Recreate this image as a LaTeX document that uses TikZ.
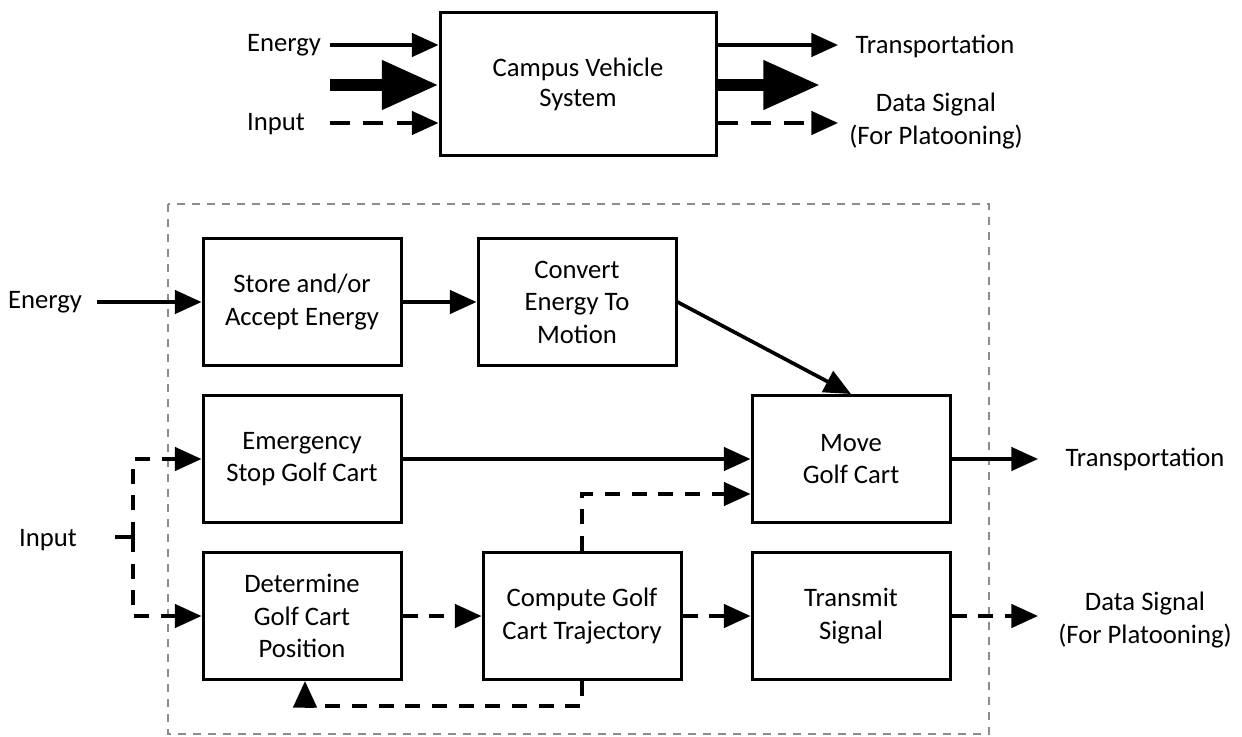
\documentclass[tikz,border=0pt]{standalone}
\usepackage{fontspec}
\setmainfont{Carlito}
\usetikzlibrary{arrows.meta}
\def\pxu{0.6pt}
\begin{document}
\begin{tikzpicture}[x=0.6pt,y=-0.6pt,
  txt/.style={align=center, inner sep=0pt, font=\fontsize{16}{19.5}\selectfont},
  blk/.style={txt, draw, line width=1.8pt, minimum width=198*\pxu, minimum height=127*\pxu},
  arr/.style={line width=2.2pt, -{Triangle[length=16pt,width=14pt]}},
  darr/.style={arr, dash pattern=on 9pt off 7pt},
  bigarr/.style={line width=7pt, -{Triangle[length=34pt,width=28pt]}},
  frame/.style={draw=black!45, line width=0.9pt, dash pattern=on 5pt off 4pt}]
\useasboundingbox (0,0) rectangle (1242,737);
\fill[white] (0,0) rectangle (1242,737);

% ---------- top block ----------
\node[blk, minimum width=276*\pxu, minimum height=143*\pxu, font=\fontsize{16}{18}\selectfont] (sys) at (578,84) {Campus Vehicle\\System};
\node[txt] (tEn) at (284,45) {Energy};
\node[txt] (tIn) at (276,124) {Input};
\node[txt] (tTr) at (935,46) {Transportation};
\node[txt] (tDa) at (936,121) {Data Signal\\(For Platooning)};

\coordinate (a1) at (330,45);
\coordinate (a2) at (330,85);
\coordinate (a3) at (330,123);
\coordinate (b1) at (838,45);
\coordinate (b2) at (820,85);
\coordinate (b3) at (838,123);
\draw[arr] (a1) -- (a1 -| sys.west);
\draw[bigarr] (a2) -- (a2 -| sys.west);
\draw[darr, dash pattern=on 12pt off 8pt] (a3) -- (a3 -| sys.west);
\draw[arr] (b1 -| sys.east) -- (b1);
\draw[bigarr] (b2 -| sys.east) -- (b2);
\draw[darr, dash pattern=on 12pt off 8pt] (b3 -| sys.east) -- (b3);

% ---------- bottom system ----------
\draw[frame] (168,204) rectangle (989,734);

\node[blk] (store) at (302,302) {Store and/or\\Accept Energy};
\node[blk] (conv)  at (577,302) {Convert\\Energy To\\Motion};
\node[blk] (emer)  at (302,459) {Emergency\\Stop Golf Cart};
\node[blk] (move)  at (851,459) {Move\\Golf Cart};
\node[blk] (det)   at (302,616) {Determine\\Golf Cart\\Position};
\node[blk] (comp)  at (582,616) {Compute Golf\\Cart Trajectory};
\node[blk] (trans) at (851,616) {Transmit\\Signal};

\node[txt] (lEn) at (45,302) {Energy};
\node[txt] (lIn) at (48,540) {Input};
\node[txt] (lTr) at (1145,459) {Transportation};
\node[txt] (lDa) at (1145,620) {Data Signal\\(For Platooning)};

\coordinate (e0) at (97,302);
\draw[arr] (e0) -- (store.west);
\draw[arr] (store.east) -- (conv.west);
\draw[arr] (conv.east) -- (move.north);
\draw[arr] (emer.east) -- (move.west);

\coordinate (i0) at (115,537);
\coordinate (j)  at (133,537);
\draw[line width=2.2pt] (i0) -- (j);
\draw[darr] (j) |- (emer.west);
\draw[darr] (j) |- (det.west);

\draw[darr] (det.east) -- (comp.west);
\draw[darr] (comp.east) -- (trans.west);
\coordinate (m1) at (582,494);
\draw[darr] (comp.north) -- (m1) -- (m1 -| move.west);

\coordinate (f1) at (582,706);
\coordinate (f2) at (305,706);
\draw[darr] (comp.south) -- (f1) -- (f2) -- (f2 |- det.south);

\coordinate (o1) at (1038,459);
\coordinate (o2) at (1038,616);
\draw[arr] (move.east) -- (o1);
\draw[darr] (trans.east) -- (o2);
\end{tikzpicture}
\end{document}
